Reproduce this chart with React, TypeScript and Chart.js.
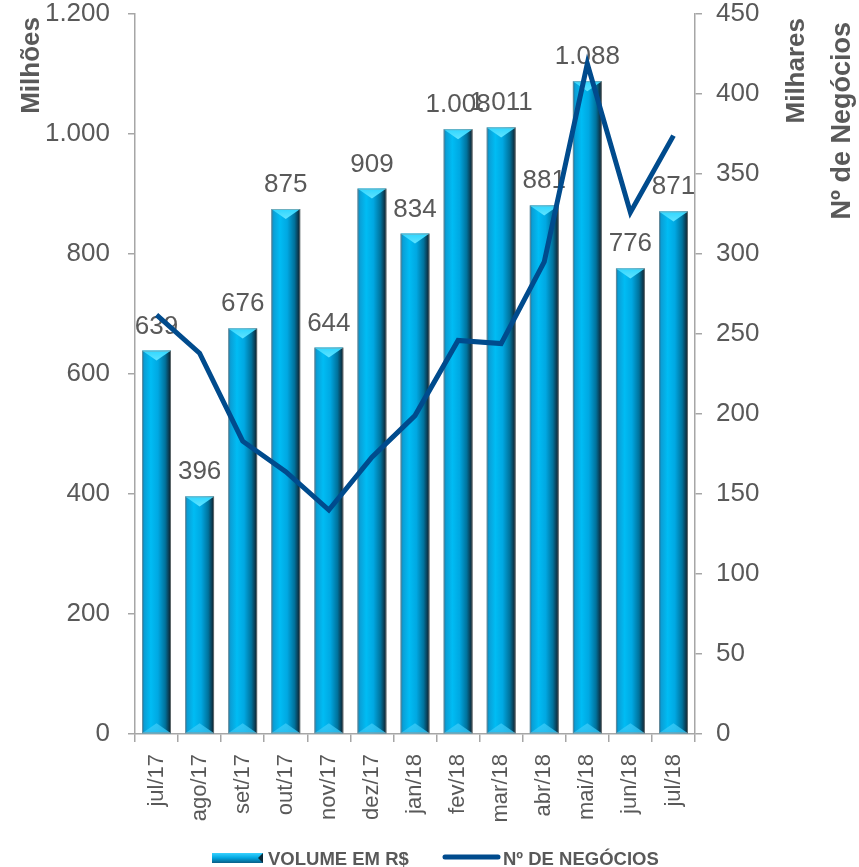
import React, { useEffect, useRef } from "react";
import { Chart, registerables } from "chart.js";

Chart.register(...registerables);

const categories = ["jul/17", "ago/17", "set/17", "out/17", "nov/17", "dez/17", "jan/18", "fev/18", "mar/18", "abr/18", "mai/18", "jun/18", "jul/18"];
const volume = [639, 396, 676, 875, 644, 909, 834, 1008, 1011, 881, 1088, 776, 871];
const negocios = [262, 238, 183, 164, 140, 173, 199, 246, 244, 295, 419, 326, 374];
const leftTitle = "Milhões";
const rightTitles = ["Milhares", "Nº de Negócios"];
const legendLabels = ["VOLUME EM R$", "Nº DE NEGÓCIOS"];

const FONT = "'Liberation Sans', Arial, sans-serif";
const GREY = "#595959";
const AXIS = "#a6a6a6";
const LINE = "#004b8d";

const fmt = (v: number) => String(v).replace(/\B(?=(\d{3})+(?!\d))/g, ".");

function drawBar(ctx: CanvasRenderingContext2D, left: number, right: number, top: number, bottom: number) {
  const w = right - left;
  const cx = (left + right) / 2;
  const g = ctx.createLinearGradient(left, 0, right, 0);
  g.addColorStop(0, "#1b6f98");
  g.addColorStop(0.08, "#0a9fd6");
  g.addColorStop(0.3, "#00bcf4");
  g.addColorStop(0.55, "#00a8e2");
  g.addColorStop(0.8, "#00729c");
  g.addColorStop(0.93, "#0b3a50");
  g.addColorStop(1, "#071820");
  ctx.fillStyle = g;
  ctx.fillRect(left, top, w, bottom - top);
  const bev = Math.min(w * 0.35, 10);
  const tg = ctx.createLinearGradient(0, top, 0, top + bev);
  tg.addColorStop(0, "#2fd6ff");
  tg.addColorStop(1, "#5fe3ff");
  ctx.beginPath();
  ctx.moveTo(left, top);
  ctx.lineTo(right, top);
  ctx.lineTo(cx, top + bev);
  ctx.closePath();
  ctx.fillStyle = tg;
  ctx.fill();
  const bg = ctx.createLinearGradient(0, bottom - bev, 0, bottom);
  bg.addColorStop(0, "rgba(80,215,255,0.55)");
  bg.addColorStop(1, "rgba(40,190,240,0.9)");
  ctx.beginPath();
  ctx.moveTo(left, bottom);
  ctx.lineTo(right, bottom);
  ctx.lineTo(cx, bottom - bev);
  ctx.closePath();
  ctx.fillStyle = bg;
  ctx.fill();
  ctx.strokeStyle = "rgba(150,150,150,0.6)";
  ctx.lineWidth = 1;
  ctx.strokeRect(left + 0.5, top + 0.5, w - 1, bottom - top - 1);
}

const barPainter = {
  id: "barPainter",
  afterDatasetDraw(chart: any, args: any) {
    if (args.index !== 0) return;
    const ctx = chart.ctx as CanvasRenderingContext2D;
    ctx.save();
    args.meta.data.forEach((el: any) => {
      const p = el.getProps(["x", "y", "base", "width"], true);
      drawBar(ctx, p.x - p.width / 2, p.x + p.width / 2, p.y, p.base);
    });
    ctx.fillStyle = GREY;
    ctx.font = `26px ${FONT}`;
    ctx.textAlign = "center";
    ctx.textBaseline = "alphabetic";
    args.meta.data.forEach((el: any, i: number) => {
      const p = el.getProps(["x", "y"], true);
      ctx.fillText(fmt(volume[i]), p.x, p.y - 17);
    });
    ctx.restore();
  },
};

const decorPainter = {
  id: "decorPainter",
  afterDraw(chart: any) {
    const ctx = chart.ctx as CanvasRenderingContext2D;
    ctx.save();
    ctx.fillStyle = GREY;
    ctx.textBaseline = "middle";
    ctx.textAlign = "right";
    const rot = (x: number, y: number, t: string) => {
      ctx.save();
      ctx.translate(x, y);
      ctx.rotate(-Math.PI / 2);
      ctx.fillText(t, 0, 0);
      ctx.restore();
    };
    ctx.font = `bold 26px ${FONT}`;
    rot(32, 17, leftTitle);
    rot(797, 18, rightTitles[0]);
    ctx.font = `bold 27px ${FONT}`;
    rot(843, 22, rightTitles[1]);

    const sx = 212, sy = 853, sw = 51, sh = 10;
    const lg = ctx.createLinearGradient(0, sy, 0, sy + sh);
    lg.addColorStop(0, "#39d2ff");
    lg.addColorStop(0.5, "#00a6e0");
    lg.addColorStop(1, "#0a5d85");
    ctx.fillStyle = lg;
    ctx.fillRect(sx, sy, sw, sh);
    ctx.beginPath();
    ctx.moveTo(sx + sw, sy);
    ctx.lineTo(sx + sw - 5, sy + sh / 2);
    ctx.lineTo(sx + sw, sy + sh);
    ctx.closePath();
    ctx.fillStyle = "#0b2a38";
    ctx.fill();

    ctx.strokeStyle = LINE;
    ctx.lineWidth = 5;
    ctx.lineCap = "round";
    ctx.beginPath();
    ctx.moveTo(445, 857);
    ctx.lineTo(498, 857);
    ctx.stroke();

    ctx.fillStyle = GREY;
    ctx.font = `bold 18.5px ${FONT}`;
    ctx.textAlign = "left";
    ctx.textBaseline = "alphabetic";
    ctx.fillText(legendLabels[0], 268, 865);
    ctx.fillText(legendLabels[1], 503, 865);
    ctx.restore();
  },
};

export default function App() {
  const ref = useRef<HTMLCanvasElement | null>(null);
  useEffect(() => {
    if (!ref.current) return;
    const chart = new Chart(ref.current, {
      type: "bar",
      data: {
        labels: categories,
        datasets: [
          {
            type: "bar",
            label: legendLabels[0],
            data: volume,
            yAxisID: "y",
            backgroundColor: "rgba(0,0,0,0)",
            borderWidth: 0,
            categoryPercentage: 1,
            barPercentage: 0.67,
            order: 2,
          },
          {
            type: "line",
            label: legendLabels[1],
            data: negocios,
            yAxisID: "y1",
            borderColor: LINE,
            borderWidth: 5,
            pointRadius: 0,
            tension: 0,
            borderJoinStyle: "miter",
            order: 1,
          } as any,
        ],
      },
      options: {
        animation: false,
        responsive: true,
        maintainAspectRatio: false,
        layout: { padding: { top: 0, left: 0, right: 0, bottom: 0 } },
        plugins: { legend: { display: false }, tooltip: { enabled: false } },
        scales: {
          x: {
            offset: true,
            grid: { display: true, drawOnChartArea: false, drawTicks: true, tickLength: 8, color: AXIS, lineWidth: 1.5, offset: true },
            border: { display: true, color: AXIS, width: 1.5 },
            ticks: { minRotation: 90, maxRotation: 90, autoSkip: false, padding: 12, color: GREY, font: { family: FONT, size: 22, lineHeight: 1 } },
            afterFit: (s: any) => { s.height = 133; },
          },
          y: {
            position: "left",
            min: 0,
            max: 1200,
            grid: { display: true, drawOnChartArea: false, drawTicks: true, tickLength: 7, color: AXIS, lineWidth: 1.5 },
            border: { display: true, color: AXIS, width: 1.5 },
            ticks: { stepSize: 200, padding: 18, color: GREY, font: { family: FONT, size: 26, lineHeight: 1 }, callback: (v: any) => fmt(Number(v)) },
            afterFit: (s: any) => { s.width = 135; s.paddingTop = 14; },
          },
          y1: {
            position: "right",
            min: 0,
            max: 450,
            grid: { display: true, drawOnChartArea: false, drawTicks: true, tickLength: 7, color: AXIS, lineWidth: 1.5 },
            border: { display: true, color: AXIS, width: 1.5 },
            ticks: { stepSize: 50, padding: 14, color: GREY, font: { family: FONT, size: 26, lineHeight: 1 } },
            afterFit: (s: any) => { s.width = 164; s.paddingTop = 14; },
          },
        },
      },
      plugins: [barPainter, decorPainter],
    });
    return () => chart.destroy();
  }, []);
  return (
    <div style={{ position: "fixed", left: 0, top: 0, width: 859, height: 867, background: "#fff" }}>
      <canvas ref={ref} />
    </div>
  );
}
